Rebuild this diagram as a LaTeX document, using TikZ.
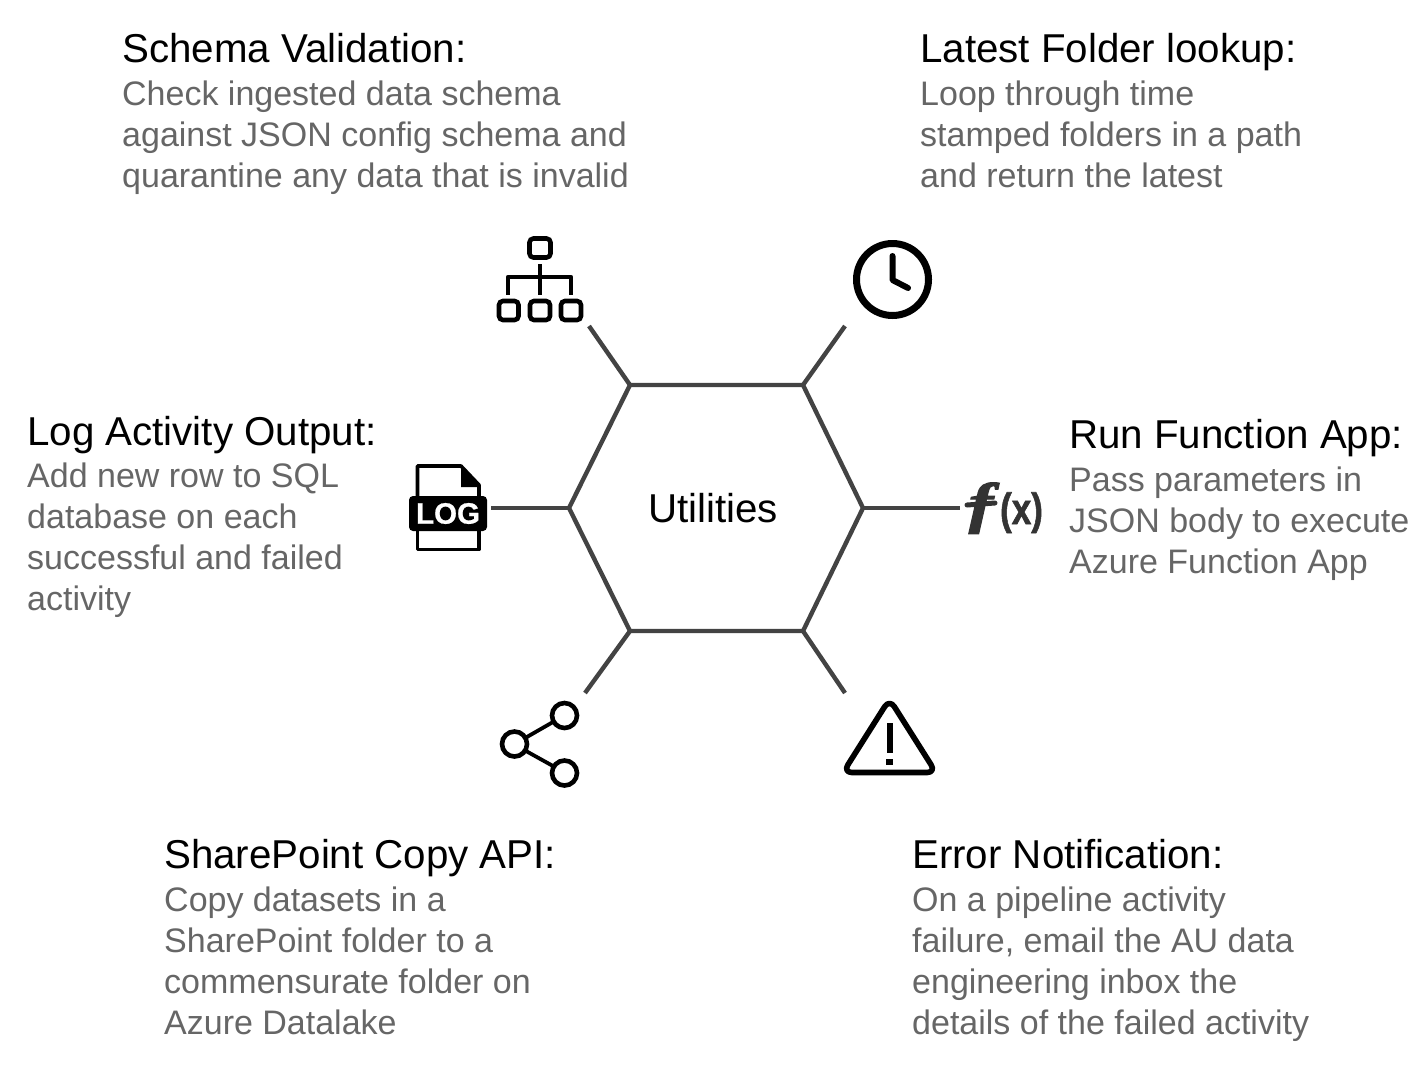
\documentclass[tikz,border=0pt]{standalone}
\usepackage{fontspec}
\setmainfont{Liberation Sans}
\newfontfamily\sansfat[FakeBold=1.5]{Liberation Sans Bold}
\newfontfamily\logfat[FakeBold=0.8]{Liberation Sans Bold}
\newfontfamily\seriffat[FakeBold=2]{Liberation Serif Bold Italic}
\definecolor{hexline}{HTML}{434343}
\definecolor{bodygrey}{HTML}{666666}
\definecolor{fxgrey}{HTML}{333333}
\tikzset{
  hexedge/.style={draw=hexline,line width=4.4pt,line join=miter},
  spoke/.style={draw=hexline,line width=4.4pt},
  icon/.style={draw=black,line width=4.6pt},
  titletext/.style={anchor=base west,inner sep=0pt,text=black,font=\fontsize{40.3}{41}\selectfont},
  bodytext/.style={anchor=north west,inner sep=0pt,align=left,text=bodygrey,font=\fontsize{34}{41}\selectfont},
  centertext/.style={inner sep=0pt,anchor=base,text=black,font=\fontsize{40.3}{41}\selectfont}
}
\newcommand{\infoblock}[5]{%
  \node[titletext] (#1t) at (#2,#3+0.8) {#4};
  \node[bodytext] (#1b) at (#2,#3+13) {\rule{0pt}{30pt}#5};
}
\begin{document}
\begin{tikzpicture}[x=1pt,y=-1pt]
\useasboundingbox (0,0) rectangle (1424,1066);
% hexagon
\coordinate (h1) at (630,385);
\coordinate (h2) at (803,385);
\coordinate (h3) at (863,508);
\coordinate (h4) at (803,631);
\coordinate (h5) at (630,631);
\coordinate (h6) at (569,508);
\path[hexedge] (h1)--(h2)--(h3)--(h4)--(h5)--(h6)--cycle;
\node[centertext] (util) at (713,522) {Utilities};
% spoke ends
\coordinate (e1) at (589,326);
\coordinate (e2) at (845,326);
\coordinate (e3) at (960,508);
\coordinate (e4) at (845,693);
\coordinate (e5) at (585,693);
\coordinate (e6) at (491,508);
\draw[spoke] (h1)--(e1);
\draw[spoke] (h2)--(e2);
\draw[spoke] (h3)--(e3);
\draw[spoke] (h4)--(e4);
\draw[spoke] (h5)--(e5);
\draw[spoke] (h6)--(e6);
% org chart icon
\draw[icon,rounded corners=4pt] (529.5,238.5) rectangle (550.5,257.5);
\draw[icon,rounded corners=4pt] (499,301) rectangle (518.5,320);
\draw[icon,rounded corners=4pt] (530,301) rectangle (550,320);
\draw[icon,rounded corners=4pt] (561,301) rectangle (581,320);
\draw[icon] (540,264)--(540,294.5);
\draw[icon,line join=round] (508,294.5)--(508,277)--(571,277)--(571,294.5);
% clock icon
\draw[draw=black,line width=7pt] (892.5,279.5) circle (36);
\draw[draw=black,line width=6pt,line cap=round,line join=round] (892.5,256)--(892.5,280)--(908,288);
% log icon
\draw[draw=black,line width=3.6pt,line join=round] (479,496)--(479,485)--(461,466)--(417.5,466)--(417.5,496);
\fill[black] (461,466)--(479,485)--(479,487)--(461,487)--cycle;
\draw[draw=black,line width=3.6pt,line join=round] (417.5,531)--(417.5,549.5)--(479,549.5)--(479,531);
\fill[black,rounded corners=4pt] (409,496) rectangle (487,531);
\node[inner sep=0pt,text=white,font=\logfat\fontsize{29.5}{29}\selectfont] (logt) at (448,513.5) {LOG};
% fx icon
\node[inner sep=0pt,anchor=base,text=fxgrey,xscale=1.3,font=\seriffat\fontsize{56}{56}\selectfont] (fxf) at (981,522) {f};
\draw[draw=fxgrey,line width=5pt,line cap=round] (967,505)--(995,503);
\node[inner sep=0pt,anchor=base,text=fxgrey,yscale=1.25,font=\sansfat\fontsize{35}{35}\selectfont] (fxx) at (1021.5,524) {(x)};
% share icon
\coordinate (s1) at (564.5,715.5);
\coordinate (s2) at (514.5,744);
\coordinate (s3) at (564.5,773);
\draw[icon] (s1) circle (12.5);
\draw[icon] (s2) circle (12.5);
\draw[icon] (s3) circle (12.5);
\draw[icon,line width=3.8pt] (526,737.5)--(553,722);
\draw[icon,line width=3.8pt] (526,751)--(553,766);
% warning icon
\draw[draw=black,line width=5.6pt,rounded corners=9pt,line join=round] (889.5,699)--(936,772.5)--(843,772.5)--cycle;
\fill[black] (886.5,723) rectangle (892.5,753);
\fill[black] (886,759) rectangle (893,764.5);
% texts
\infoblock{a}{122}{62}{Schema Validation:}{Check ingested data schema\\against JSON config schema and\\quarantine any data that is invalid}
\infoblock{b}{920}{62}{Latest Folder lookup:}{Loop through time\\stamped folders in a path\\and return the latest}
\infoblock{c}{27}{444.6}{Log Activity Output:}{Add new row to SQL\\database on each\\successful and failed\\activity}
\infoblock{d}{1069}{448}{Run Function App:}{Pass parameters in\\JSON body to execute\\Azure Function App}
\infoblock{e}{164}{868}{SharePoint Copy API:}{Copy datasets in a\\SharePoint folder to a\\commensurate folder on\\Azure Datalake}
\infoblock{f}{912}{868}{Error Notification:}{On a pipeline activity\\failure, email the AU data\\engineering inbox the\\details of the failed activity}
\end{tikzpicture}
\end{document}
